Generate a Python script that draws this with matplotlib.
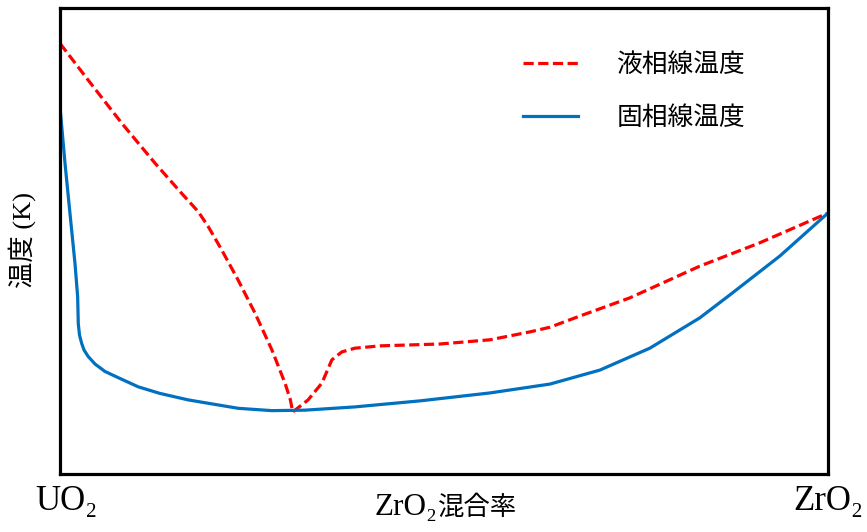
import matplotlib
matplotlib.use("Agg")
import matplotlib.pyplot as plt

# 液相線 (liquidus), x: ZrO2 ratio 0-100, y: arbitrary temperature scale 0-100
liq_x = [0, 3.68, 8.03, 12.37, 15.85, 18.0, 19.3, 21.05, 23.2, 25.4, 27.6, 29.3, 30.0, 30.3,
         32.3, 34.1, 35.4, 36.7, 38.4, 41.7, 49.5, 56.0, 61.2, 63.8, 67.7, 74.2, 83.3, 91.1, 100]
liq_y = [92.4, 84.5, 75.3, 66.7, 60.2, 56.3, 53.1, 48.1, 41.6, 34.5, 26.6, 19.5, 15.9, 13.3,
         15.9, 19.5, 24.5, 26.2, 27.0, 27.5, 27.9, 28.8, 30.5, 31.5, 33.9, 37.8, 44.6, 49.6, 56.0]

# 固相線 (solidus)
sol_x = [0, 0.65, 1.30, 1.95, 2.30, 2.38, 2.54, 2.83, 3.13, 3.68, 4.56, 5.86, 7.81, 10.2,
         13.0, 16.7, 23.2, 27.6, 31.9, 38.4, 46.9, 56.0, 63.8, 70.3, 76.8, 83.3, 87.2, 93.75, 100]
sol_y = [78.8, 66.7, 55.9, 45.2, 38.0, 32.3, 29.8, 28.0, 26.6, 25.2, 23.6, 22.0, 20.5, 18.7,
         17.3, 15.9, 14.1, 13.6, 13.7, 14.4, 15.7, 17.4, 19.3, 22.3, 27.0, 33.5, 38.4, 46.8, 56.0]

labels = ['液相線温度', '固相線温度']

serif_cjk = ['Liberation Serif', 'Noto Sans CJK JP', 'DejaVu Serif']

fig = plt.figure(figsize=(8.67, 5.32), dpi=100)
ax = fig.add_axes([0.0692, 0.109, 0.8858, 0.876])

ax.plot(liq_x, liq_y, color='#ff0000', lw=2.3, linestyle=(0, (3.2, 1.4)), label=labels[0])
ax.plot(sol_x, sol_y, color='#0070c0', lw=2.3, label=labels[1])

ax.set_xlim(0, 100)
ax.set_ylim(0, 100)
ax.set_xticks([])
ax.set_yticks([])
for s in ax.spines.values():
    s.set_linewidth(2.3)

ax.legend(loc='upper left', bbox_to_anchor=(0.603, 0.905), frameon=False,
          prop={'family': 'Noto Sans CJK JP', 'size': 18.5},
          handlelength=2.14, handletextpad=1.5, labelspacing=1.05,
          borderpad=0, borderaxespad=0)

fig.text(0.077, 0.058, 'UO₂', ha='center', va='center', fontsize=25, family=serif_cjk)
fig.text(0.955, 0.058, 'ZrO₂', ha='center', va='center', fontsize=25, family=serif_cjk)
# x label: latin part a bit larger than the kanji part
fig.text(0.505, 0.032, 'ZrO₂', ha='right', va='baseline', fontsize=22.5, family=serif_cjk)
fig.text(0.505, 0.032, '混合率', ha='left', va='baseline', fontsize=19, family=serif_cjk)
fig.text(0.025, 0.549, '温度 (K)', ha='center', va='center', rotation=90, fontsize=19, family=serif_cjk)

fig.savefig('out.png', dpi=100)
